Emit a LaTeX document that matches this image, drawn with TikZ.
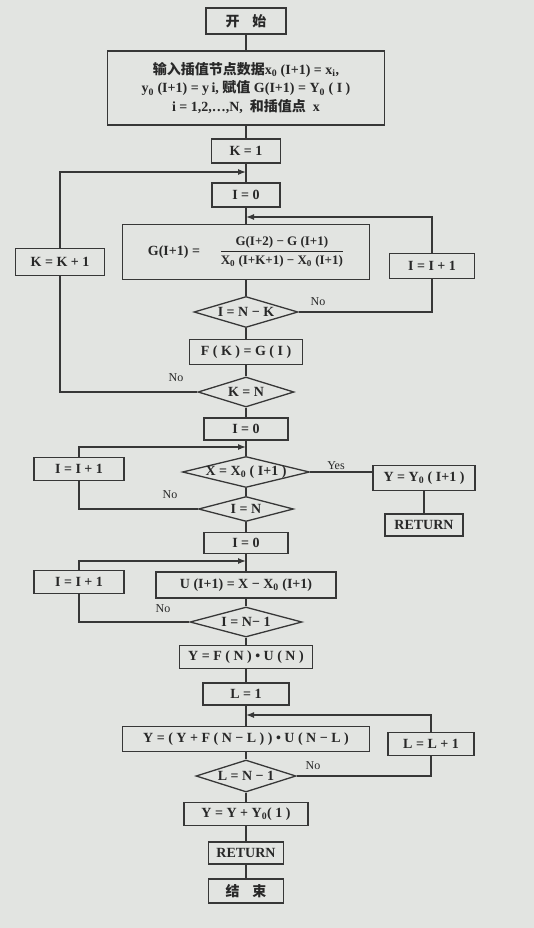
\documentclass[tikz,border=0pt]{standalone}
\usepackage{fontspec}
\setmainfont{Liberation Serif}
\newfontfamily\cjk{Noto Sans CJK SC}
\usetikzlibrary{shapes.geometric,arrows.meta}
\definecolor{paper}{RGB}{226,228,225}
\definecolor{ink}{RGB}{55,55,55}
\definecolor{txt}{RGB}{40,40,40}
\newcommand{\zsub}{\textsubscript{0}}
\begin{document}
\begin{tikzpicture}[x=1pt,y=-1pt,
  box/.style={draw=ink, line width=1.3pt, rectangle, inner sep=0pt, text=txt,
    font=\fontsize{14}{18.5}\selectfont\bfseries, align=center},
  dia/.style={draw=ink, line width=1.3pt, diamond, inner sep=0pt},
  dtxt/.style={text=txt, font=\fontsize{14}{18}\selectfont\bfseries, inner sep=0pt},
  conn/.style={draw=ink, line width=1.3pt},
  arr/.style={conn, -{Latex[length=8pt,width=6pt]}},
  lab/.style={text=txt, font=\fontsize{12}{14}\selectfont, inner sep=0pt}
]
\fill[paper] (0,0) rectangle (534,928);
\useasboundingbox (0,0) rectangle (534,928);

% main column
\node[box, minimum width=80pt, minimum height=26pt] (start) at (246,21) {{\cjk 开\hspace{0.9em}始}};
\node[box, minimum width=277pt, minimum height=74pt] (inp) at (246,88)
  {{\cjk 输入插值节点数据}x\zsub\ (I+1) = x\textsubscript{i},\\
   y\zsub\ (I+1) = y\,i, {\cjk 赋值} G(I+1) = Y\zsub\ ( I )\\
   i = 1,2,…,N, \ {\cjk 和插值点}\ \ x};
\node[box, minimum width=69pt, minimum height=24pt] (k1) at (246,151) {K = 1};
\coordinate (j1) at (246,172);
\node[box, minimum width=68pt, minimum height=24pt] (i0a) at (246,195) {I = 0};
\coordinate (j2) at (246,217);
\node[box, minimum width=247pt, minimum height=55pt] (g) at (246,252)
  {G(I+1) =\hspace{1.4em}$\displaystyle\frac{\hbox{\fontsize{13}{15}\selectfont\bfseries G(I+2) − G (I+1)}}{\hbox{\fontsize{13}{15}\selectfont\bfseries X\zsub\ (I+K+1) − X\zsub\ (I+1)}}$};
\node[dia, minimum width=104pt, minimum height=31pt, label={[dtxt]center:{I = N − K}}] (d1) at (246,312) {};
\node[box, minimum width=113pt, minimum height=25pt] (fk) at (246,352) {F ( K ) = G ( I )};
\node[dia, minimum width=96pt, minimum height=30pt, label={[dtxt]center:{K = N}}] (d2) at (246,392) {};
\node[box, minimum width=84pt, minimum height=22pt] (i0b) at (246,429) {I = 0};
\coordinate (j3) at (246,447);
\node[dia, minimum width=127pt, minimum height=31pt, label={[dtxt]center:{X = X\zsub\ ( I+1 )}}] (d3) at (246,472) {};
\node[dia, minimum width=95pt, minimum height=25pt, label={[dtxt]center:{I = N}}] (d4) at (246,509) {};
\node[box, minimum width=84pt, minimum height=21pt] (i0c) at (246,543) {I = 0};
\coordinate (j4) at (246,561);
\node[box, minimum width=180pt, minimum height=26pt] (u) at (246,585) {U (I+1) = X − X\zsub\ (I+1)};
\node[dia, minimum width=112pt, minimum height=30pt, label={[dtxt]center:{I = N− 1}}] (d5) at (246,622) {};
\node[box, minimum width=133pt, minimum height=23pt] (yf) at (246,657) {Y = F ( N ) • U ( N )};
\node[box, minimum width=86pt, minimum height=22pt] (l1) at (246,694) {L = 1};
\coordinate (j5) at (246,715);
\node[box, minimum width=247pt, minimum height=25pt] (yy) at (246,739) {Y = ( Y + F ( N − L ) ) • U ( N − L )};
\node[dia, minimum width=100pt, minimum height=32pt, label={[dtxt]center:{L = N − 1}}] (d6) at (246,776) {};
\node[box, minimum width=124pt, minimum height=23pt] (yy0) at (246,814) {Y = Y + Y\zsub( 1 )};
\node[box, minimum width=75pt, minimum height=22pt] (ret2) at (246,853) {RETURN};
\node[box, minimum width=75pt, minimum height=24pt] (end) at (246,891) {{\cjk 结\hspace{0.9em}束}};

% side boxes
\node[box, minimum width=89pt, minimum height=27pt] (kk) at (60,262) {K = K + 1};
\node[box, minimum width=85pt, minimum height=25pt] (ii1) at (432,266) {I = I + 1};
\node[box, minimum width=90pt, minimum height=23pt] (ii2) at (79,469) {I = I + 1};
\node[box, minimum width=102pt, minimum height=25pt] (yo) at (424,478) {Y = Y\zsub\ ( I+1 )};
\node[box, minimum width=78pt, minimum height=22pt] (ret1) at (424,525) {RETURN};
\node[box, minimum width=90pt, minimum height=23pt] (ii3) at (79,582) {I = I + 1};
\node[box, minimum width=86pt, minimum height=23pt] (ll) at (431,744) {L = L + 1};

% labels
\node[lab] (no1) at (318,302) {No};
\node[lab] (no2) at (176,378) {No};
\node[lab] (yes1) at (336,466) {Yes};
\node[lab] (no3) at (170,495) {No};
\node[lab] (no4) at (163,609) {No};
\node[lab] (no5) at (313,766) {No};

% main connectors
\draw[conn] (start) -- (inp);
\draw[conn] (inp) -- (k1);
\draw[conn] (k1) -- (i0a);
\draw[conn] (i0a) -- (g);
\draw[conn] (g) -- (d1);
\draw[conn] (d1) -- (fk);
\draw[conn] (fk) -- (d2);
\draw[conn] (d2) -- (i0b);
\draw[conn] (i0b) -- (d3);
\draw[conn] (d3) -- (d4);
\draw[conn] (d4) -- (i0c);
\draw[conn] (i0c) -- (u);
\draw[conn] (u) -- (d5);
\draw[conn] (d5) -- (yf);
\draw[conn] (yf) -- (l1);
\draw[conn] (l1) -- (yy);
\draw[conn] (yy) -- (d6);
\draw[conn] (d6) -- (yy0);
\draw[conn] (yy0) -- (ret2);
\draw[conn] (ret2) -- (end);

% loops
\draw[conn] (d2.west) -| (kk.south);
\draw[arr] (kk.north) |- (j1);
\draw[conn] (d1.east) -| (ii1.south);
\draw[arr] (ii1.north) |- (j2);
\draw[conn] (d4.west) -| (ii2.south);
\draw[arr] (ii2.north) |- (j3);
\draw[conn] (d5.west) -| (ii3.south);
\draw[arr] (ii3.north) |- (j4);
\draw[conn] (d6.east) -| (ll.south);
\draw[arr] (ll.north) |- (j5);
\draw[conn] (d3.east) -- (d3.east -| yo.west);
\draw[conn] (yo) -- (ret1);
\end{tikzpicture}
\end{document}
